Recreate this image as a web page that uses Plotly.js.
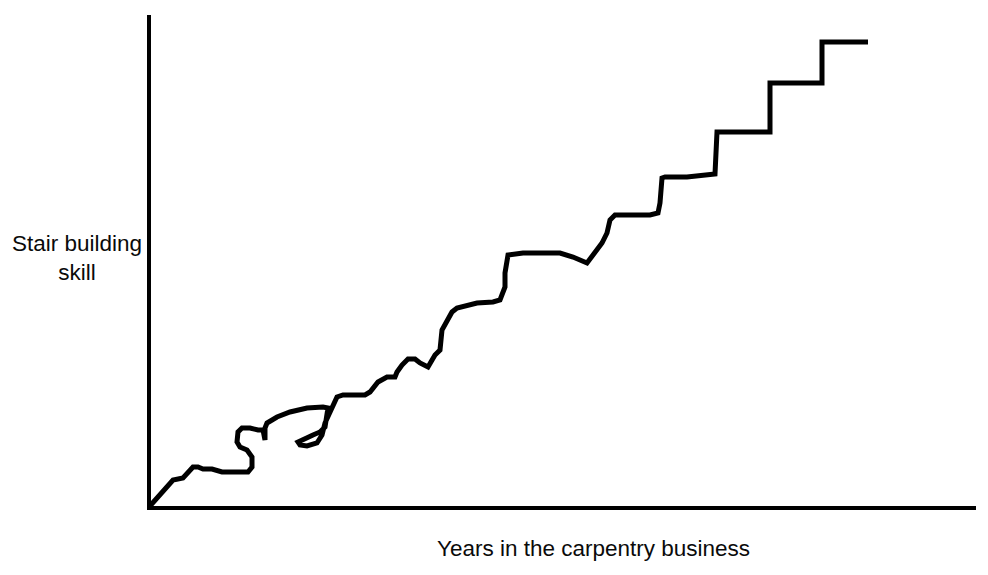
<!DOCTYPE html>
<html>
<head>
<meta charset="utf-8">
<script src="https://cdn.plot.ly/plotly-3.0.1.min.js"></script>
<style>
  html, body { margin: 0; padding: 0; background: #fff; }
  #chart { width: 988px; height: 575px; }
</style>
</head>
<body>
<div id="chart"></div>
<script>
// Hand-drawn curve (arbitrary units: years vs. skill)
const years = [0, 23, 33, 43, 48, 53, 62, 72, 83, 98, 102, 102, 97, 90, 87, 88, 92, 100, 108, 113, 115, 115, 117, 127, 140, 157, 173, 178, 175, 170, 163, 153, 148, 150, 157, 167, 172, 175, 182, 187, 193, 215, 220, 228, 237, 245, 247, 252, 258, 265, 270, 278, 285, 290, 292, 297, 302, 307, 317, 327, 343, 350, 355, 355, 358, 373, 410, 423, 437, 443, 452, 457, 460, 465, 500, 508, 510, 512, 515, 537, 565, 567, 620, 620, 672, 672, 718];
const skill = [2, 28, 30, 41, 41, 39, 39, 36, 36, 36, 41, 51, 58, 61, 66, 76, 80, 80, 78, 78, 68, 80, 85, 91, 96, 100, 101, 100, 81, 76, 73, 69, 66, 63, 62, 65, 73, 85, 101, 111, 113, 113, 116, 126, 131, 131, 136, 143, 149, 149, 145, 141, 153, 158, 178, 186, 196, 200, 202, 205, 206, 208, 221, 235, 253, 255, 255, 251, 245, 253, 265, 275, 288, 293, 293, 295, 305, 330, 331, 331, 334, 376, 376, 425, 425, 466, 466];

const xLabel = 'Years in the carpentry business';
const yLabel = 'Stair building<br>skill';

const trace = {
  x: years,
  y: skill,
  type: 'scatter',
  mode: 'lines',
  line: { color: '#000', width: 5 },
  hoverinfo: 'skip'
};

const layout = {
  width: 988,
  height: 575,
  margin: { l: 151, r: 12, t: 15, b: 69, pad: 0 },
  paper_bgcolor: '#fff',
  plot_bgcolor: '#fff',
  showlegend: false,
  font: { family: '"Liberation Sans", Arial, sans-serif', color: '#000', size: 22 },
  xaxis: {
    range: [1, 826],
    showgrid: false, zeroline: false, showticklabels: false, ticks: '',
    showline: true, linecolor: '#000', linewidth: 4, fixedrange: true
  },
  yaxis: {
    range: [2, 493],
    showgrid: false, zeroline: false, showticklabels: false, ticks: '',
    showline: true, linecolor: '#000', linewidth: 4, fixedrange: true
  },
  annotations: [
    {
      text: xLabel, xref: 'paper', yref: 'paper',
      x: (593 - 151) / 825, y: -(548 - 506) / 491, xanchor: 'center', yanchor: 'middle',
      showarrow: false, font: { size: 22.5, color: '#0a0a0a' }
    },
    {
      text: yLabel, xref: 'paper', yref: 'paper',
      x: -(151 - 77) / 825, y: (506 - 258) / 491, xanchor: 'center', yanchor: 'middle',
      align: 'center', showarrow: false, font: { size: 22.5, color: '#0a0a0a' }
    }
  ]
};

Plotly.newPlot('chart', [trace], layout, { displayModeBar: false, staticPlot: true });
</script>
</body>
</html>
